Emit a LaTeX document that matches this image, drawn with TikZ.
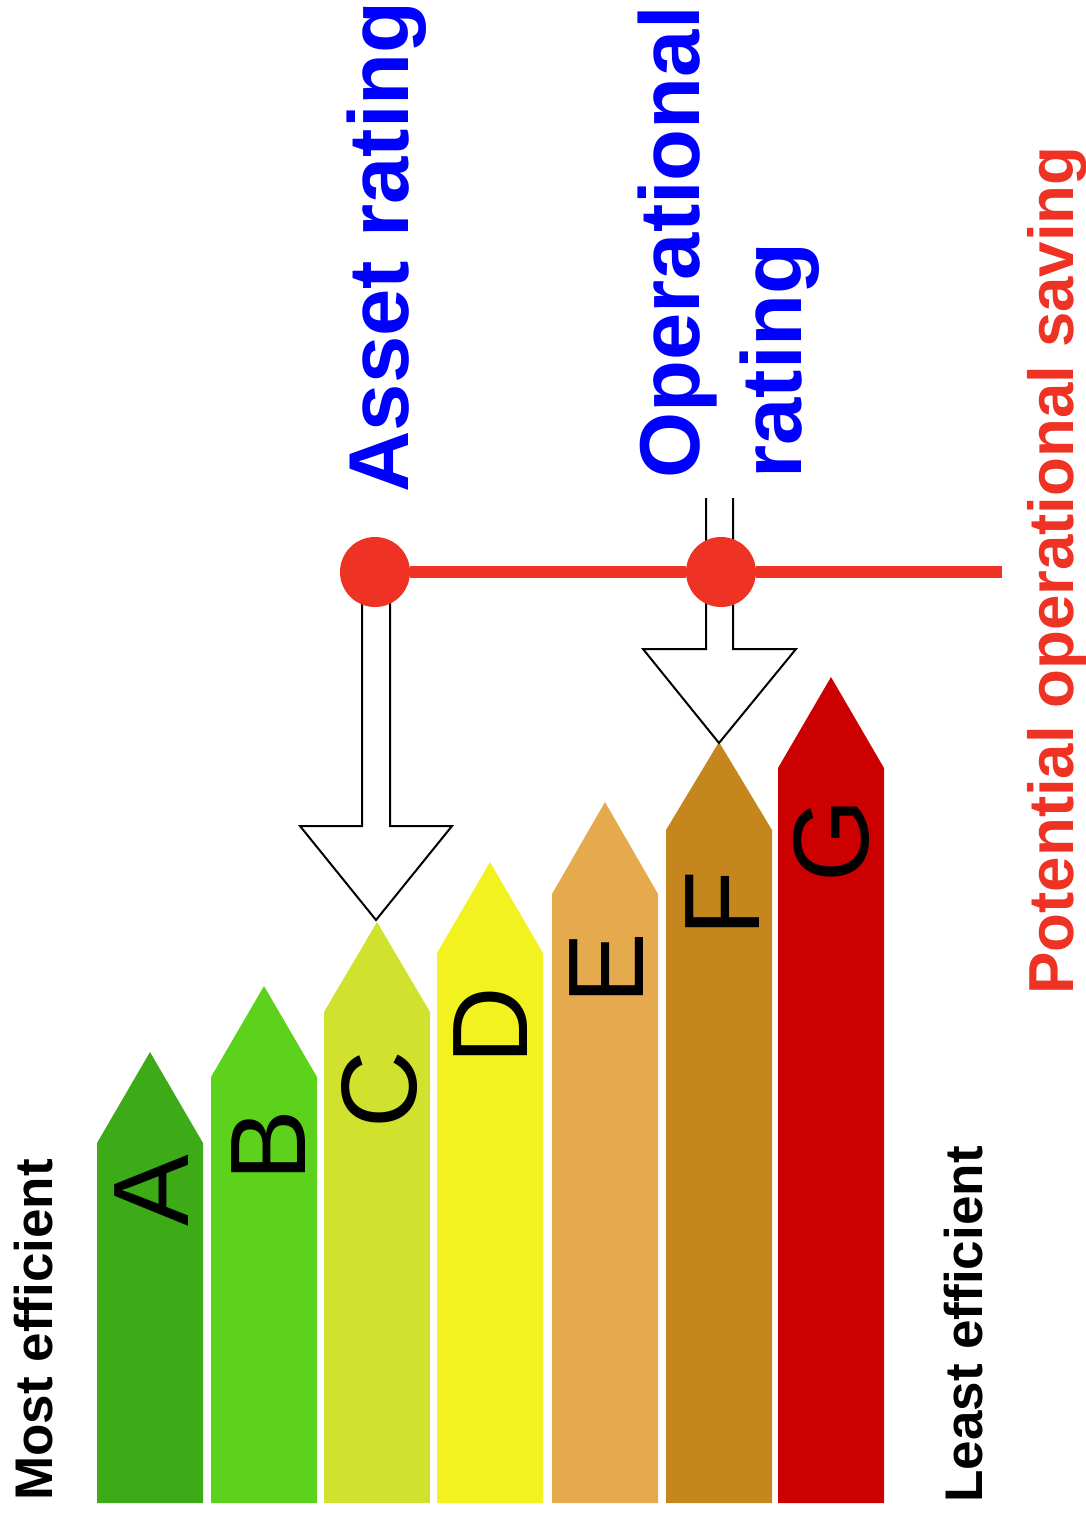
\documentclass[tikz,border=0pt]{standalone}
\usepackage{fontspec}
\setmainfont{Liberation Sans}
\usetikzlibrary{positioning}

\definecolor{ratingA}{RGB}{61,170,23}
\definecolor{ratingB}{RGB}{92,210,28}
\definecolor{ratingC}{RGB}{208,226,46}
\definecolor{ratingD}{RGB}{242,242,32}
\definecolor{ratingE}{RGB}{229,170,78}
\definecolor{ratingF}{RGB}{197,134,30}
\definecolor{ratingG}{RGB}{204,0,0}
\definecolor{saving}{RGB}{238,51,36}
\definecolor{ratingblue}{RGB}{0,0,255}

\begin{document}
\begin{tikzpicture}[x=0.5pt,y=-0.5pt]

        \tikzset{letter/.style = {rotate=90, anchor=base, inner sep=0pt, font=\fontsize{53.7pt}{60pt}\selectfont}, }
        \tikzset{sidelabel/.style = {rotate=90, anchor=base west, inner sep=0pt, font=\fontsize{26.5pt}{30pt}\selectfont\bfseries}, }
        \tikzset{title/.style = {rotate=90, inner sep=0pt, text=ratingblue, font=\fontsize{42.5pt}{51pt}\selectfont\bfseries}, }
        \tikzset{hollow/.style = {draw=black, fill=white, line width=1pt, line join=miter}, }
        \tikzset{dot/.style = {circle, fill=saving, minimum size=35pt, inner sep=0pt}, }
        \tikzset{saveline/.style = {draw=saving, line width=6pt}, }

        \useasboundingbox (0,0) rectangle (1086,1517);

        % rating bars
        \fill[ratingA] (97,1503) -- (97,1143) -- (150,1052) -- (203,1143) -- (203,1503) -- cycle;
        \fill[ratingB] (211,1503) -- (211,1077) -- (264,986) -- (317,1077) -- (317,1503) -- cycle;
        \fill[ratingC] (324,1503) -- (324,1012) -- (377,922) -- (430,1012) -- (430,1503) -- cycle;
        \fill[ratingD] (437,1503) -- (437,953) -- (490,862) -- (543,953) -- (543,1503) -- cycle;
        \fill[ratingE] (552,1503) -- (552,894) -- (605,802) -- (658,894) -- (658,1503) -- cycle;
        \fill[ratingF] (666,1503) -- (666,830) -- (719,742) -- (772,830) -- (772,1503) -- cycle;
        \fill[ratingG] (778,1503) -- (778,768) -- (831,677) -- (884,768) -- (884,1503) -- cycle;

        \node[letter] (LA) at (188,1191) {A};
        \node[letter] (LB) at (305,1146) {B};
        \node[letter] (LC) at (416,1090) {C};
        \node[letter] (LD) at (527,1026) {D};
        \node[letter] (LE) at (643,969) {E};
        \node[letter] (LF) at (759,904) {F};
        \node[letter] (LG) at (868,841) {G};

        \node[sidelabel] (most) at (52,1501) {Most efficient};
        \node[sidelabel] (least) at (982,1503) {Least efficient};

        % ratings
        \node[title, anchor=base west] (asset) at (408,493) {Asset rating};
        \node[title, anchor=north west, align=left] (oper) at (638,479) {Operational\\rating};
        \node[rotate=90, anchor=base west, inner sep=0pt, text=saving,
              font=\fontsize{31.8pt}{36pt}\selectfont\bfseries] (potential) at (1073,995) {Potential operational saving};

        \draw[hollow] (362,572) -- (362,826) -- (300,826) -- (376,920) -- (452,826) -- (390,826) -- (390,572);
        \draw[hollow] (706,498) -- (706,649) -- (643,649) -- (719,743) -- (796,649) -- (733,649) -- (733,498);

        \node[dot] (assetdot) at (375,572) {};
        \node[dot] (opdot) at (721,572) {};
        \coordinate (saveend) at (1002,572);

        \draw[saveline] (assetdot) -- (opdot) -- (saveend);

\end{tikzpicture}
\end{document}
